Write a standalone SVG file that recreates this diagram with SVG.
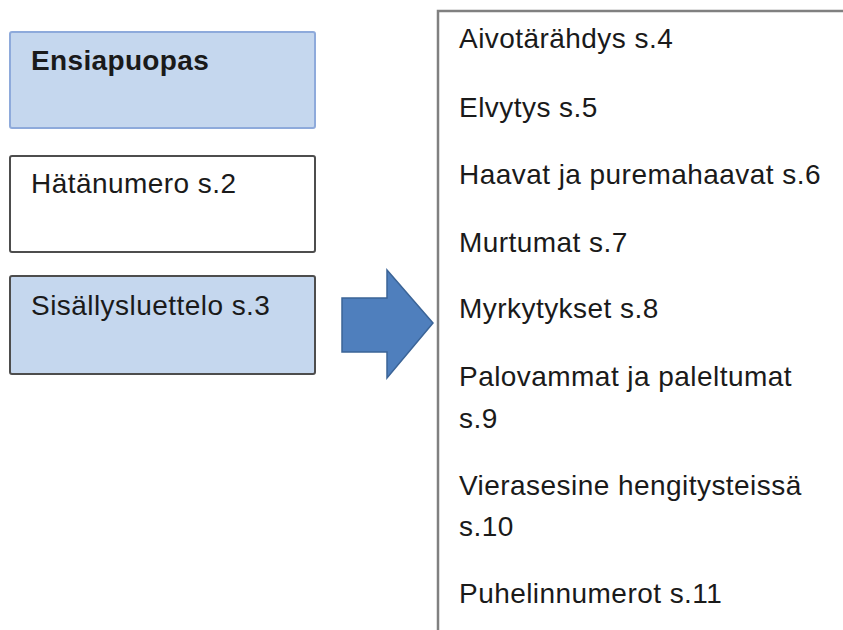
<svg xmlns="http://www.w3.org/2000/svg" width="843" height="630" viewBox="0 0 843 630">
<style>
  .t { font-family: "Liberation Sans", Arial, sans-serif; font-size: 28px; fill: #1a1a1a; letter-spacing: 0.45px; }
  .b { font-weight: bold; letter-spacing: 0.35px; }
  .blue { fill: #c5d7ee; }
  .box { stroke-width: 2; }
</style>
<rect width="843" height="630" fill="#ffffff"/>
<g id="ensiapuopas">
  <rect x="10" y="32" width="305" height="96" rx="2" class="blue box" stroke="#8eaadb"/>
  <text x="31" y="70" class="t b">Ensiapuopas</text>
</g>
<g id="hatanumero">
  <rect x="10" y="156" width="305" height="96" rx="2" fill="#ffffff" class="box" stroke="#4d4d4d"/>
  <text x="31" y="193" class="t">Hätänumero s.2</text>
</g>
<g id="sisallysluettelo">
  <rect x="10" y="276" width="305" height="98" rx="2" class="blue box" stroke="#4d4d4d"/>
  <text x="31" y="315" class="t">Sisällysluettelo s.3</text>
</g>
<g id="connectors">
  <polygon points="342,298 387,298 387,270 433,323 387,378 387,352 342,352" fill="#4f7fbd" stroke="#3b6497" stroke-width="1.5" stroke-linejoin="miter"/>
</g>
<g id="sisallys-lista">
  <path d="M438,630 L438,11 L843,11" fill="none" stroke="#808080" stroke-width="2.5"/>
  <text x="459" y="48" class="t">Aivotärähdys s.4</text>
  <text x="459" y="117" class="t">Elvytys s.5</text>
  <text x="459" y="184" class="t">Haavat ja puremahaavat s.6</text>
  <text x="459" y="252" class="t">Murtumat s.7</text>
  <text x="459" y="318" class="t">Myrkytykset s.8</text>
  <text x="459" y="386" class="t">Palovammat ja paleltumat</text>
  <text x="459" y="428" class="t">s.9</text>
  <text x="459" y="495" class="t">Vierasesine hengitysteissä</text>
  <text x="459" y="536" class="t">s.10</text>
  <text x="459" y="603" class="t">Puhelinnumerot s.11</text>
</g>
</svg>
